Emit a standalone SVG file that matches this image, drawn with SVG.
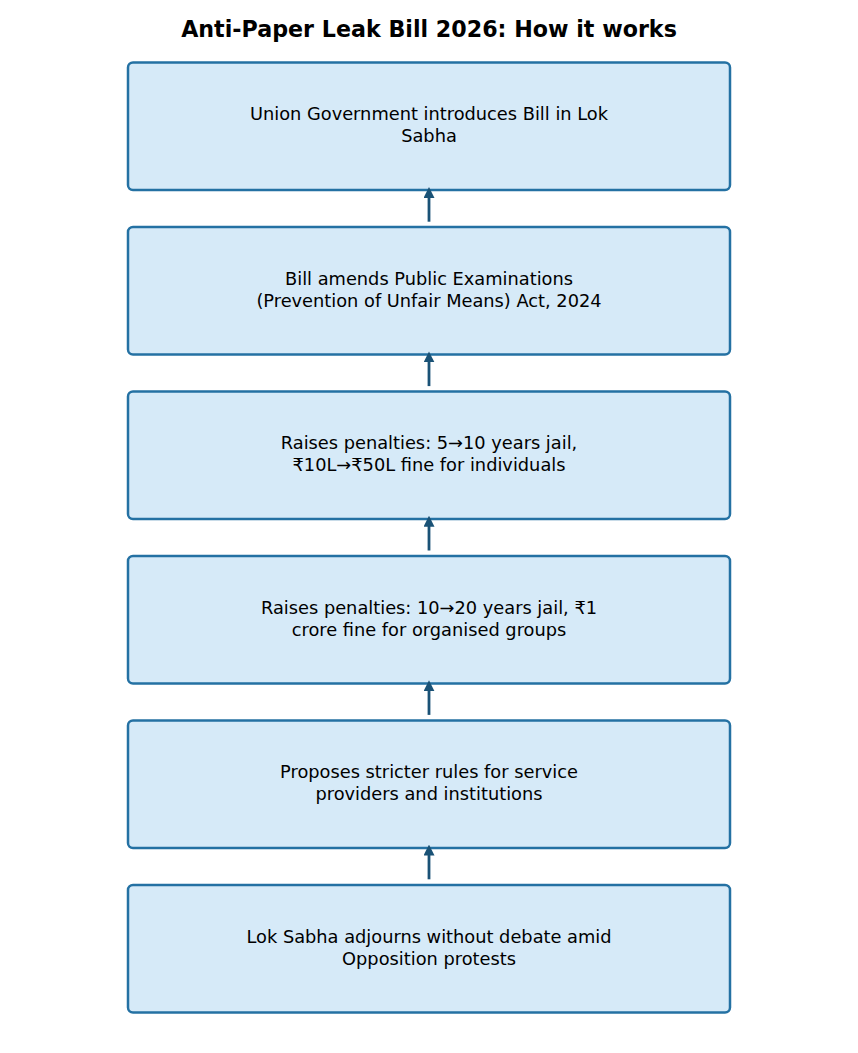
<svg xmlns="http://www.w3.org/2000/svg" width="858" height="1053" viewBox="0 0 858 1053">
<style>
.box{fill:#D6EAF8;stroke:#2471A3;stroke-width:2.5}
.t{font-family:"DejaVu Sans",sans-serif;font-size:17.8px;fill:#000;text-anchor:middle}
.title{font-family:"DejaVu Sans",sans-serif;font-size:22.2px;font-weight:bold;fill:#000;text-anchor:middle}
.c{stroke:#1A5276;stroke-width:2.8;fill:none;marker-end:url(#ah)}
</style>
<defs>
<marker id="ah" markerUnits="userSpaceOnUse" markerWidth="11" markerHeight="11" viewBox="0 0 11 11" refX="1" refY="5.5" orient="auto">
<path d="M0,0 L11,5.5 L0,11 z" fill="#1A5276"/>
</marker>
</defs>
<rect width="858" height="1053" fill="#fff"/>
<text class="title" x="429" y="37">Anti-Paper Leak Bill 2026: How it works</text>
<g id="n1"><rect class="box" x="128" y="62.5" width="602" height="127.5" rx="5"/><text class="t" x="429" y="120">Union Government introduces Bill in Lok</text><text class="t" x="429" y="142">Sabha</text></g>
<g id="n2"><rect class="box" x="128" y="227" width="602" height="127.5" rx="5"/><text class="t" x="429" y="284.5">Bill amends Public Examinations</text><text class="t" x="429" y="306.5">(Prevention of Unfair Means) Act, 2024</text></g>
<g id="n3"><rect class="box" x="128" y="391.5" width="602" height="127.5" rx="5"/><text class="t" x="429" y="449">Raises penalties: 5→10 years jail,</text><text class="t" x="429" y="471">₹10L→₹50L fine for individuals</text></g>
<g id="n4"><rect class="box" x="128" y="556" width="602" height="127.5" rx="5"/><text class="t" x="429" y="613.5">Raises penalties: 10→20 years jail, ₹1</text><text class="t" x="429" y="635.5">crore fine for organised groups</text></g>
<g id="n5"><rect class="box" x="128" y="720.5" width="602" height="127.5" rx="5"/><text class="t" x="429" y="778">Proposes stricter rules for service</text><text class="t" x="429" y="800">providers and institutions</text></g>
<g id="n6"><rect class="box" x="128" y="885" width="602" height="127.5" rx="5"/><text class="t" x="429" y="942.5">Lok Sabha adjourns without debate amid</text><text class="t" x="429" y="964.5">Opposition protests</text></g>
<g id="connectors">
<path class="c" d="M429,221.7 V197"/>
<path class="c" d="M429,386.1 V361.4"/>
<path class="c" d="M429,550.5 V525.8"/>
<path class="c" d="M429,714.9 V690.2"/>
<path class="c" d="M429,879.3 V854.6"/>
</g>
</svg>
